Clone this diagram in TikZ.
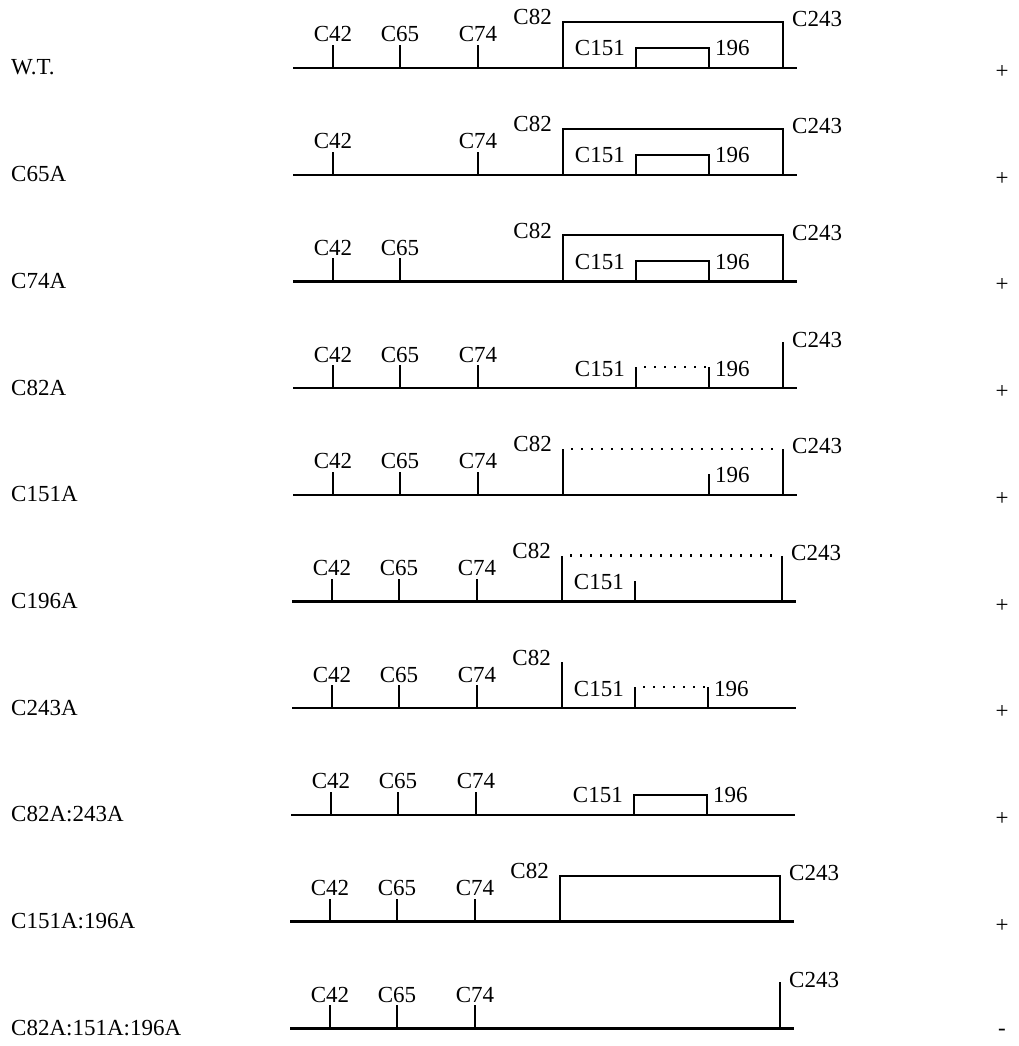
\documentclass[tikz,border=0pt]{standalone}
\usepackage{fontspec}
\setmainfont{Liberation Serif}
\def\xs{293}\def\xt{797}
\def\xa{333}\def\xb{400}\def\xc{478}\def\xd{563}\def\xe{636}\def\xf{709}\def\xg{783}
\def\hT{46}\def\hS{23}\def\hL{21}\def\hI{20}
\newcommand\SmallTick[3]{%
  \draw[tk] (#2,0) -- (#2,-\hS) coordinate (#1);
  \node[lbl,anchor=base] (#1l) at (#2,-\hS-3) {#3};}
\newcommand\TallTick[2]{%
  \draw[tk] (#2,0) -- (#2,-\hT) coordinate (#1);}
\newcommand\LowTick[2]{%
  \draw[tk] (#2,0) -- (#2,-\hL) coordinate (#1);}
\newcommand\LabLeft[3]{\node[lbl,anchor=base east] (#1) at (#2) {#3};}
\newcommand\LabRight[3]{\node[lbl,anchor=base west] (#1) at (#2) {#3};}
\newcommand\GeneLine[1]{%
  \coordinate (#1s) at (\xs,0); \coordinate (#1t) at (\xt,0);
  \draw[mainln] (#1s) -- (#1t);}
\newcommand\FirstTicks[4]{% name, show42, show65, show74
  \ifnum#2=1 \SmallTick{#1a}{\xa}{C42}\fi
  \ifnum#3=1 \SmallTick{#1b}{\xb}{C65}\fi
  \ifnum#4=1 \SmallTick{#1c}{\xc}{C74}\fi}
\newcommand\LabEightyTwo[1]{\LabLeft{#1dl}{\xd-11,-\hT+3}{C82}}
\newcommand\LabTwoFortyThree[1]{\LabRight{#1gl}{\xg+9,-\hT+5}{C243}}
\newcommand\LabOneFiftyOne[1]{\LabLeft{#1el}{\xe-11,-12}{C151}}
\newcommand\LabOneNinetySix[1]{\LabRight{#1fl}{\xf+6,-12}{196}}
\newcommand\SolidOuter[1]{%
  \coordinate (#1d0) at (\xd,0); \coordinate (#1d1) at (\xd,-\hT);
  \coordinate (#1g1) at (\xg,-\hT); \coordinate (#1g0) at (\xg,0);
  \draw[tk] (#1d0) -- (#1d1) -- (#1g1) -- (#1g0);
  \LabEightyTwo{#1}\LabTwoFortyThree{#1}}
\newcommand\SolidInner[1]{%
  \coordinate (#1e0) at (\xe,0); \coordinate (#1e1) at (\xe,-\hI);
  \coordinate (#1f1) at (\xf,-\hI); \coordinate (#1f0) at (\xf,0);
  \draw[tk] (#1e0) -- (#1e1) -- (#1f1) -- (#1f0);
  \LabOneFiftyOne{#1}\LabOneNinetySix{#1}}
\tikzset{
  lbl/.style={font=\fontsize{23}{27}\selectfont, inner sep=0pt},
  mainln/.style={line width=2.4pt},
  tk/.style={line width=2pt},
  dotln/.style={line width=2.4pt, dash pattern=on 2.4pt off 7.6pt},
}
\begin{document}
\begin{tikzpicture}[x=1pt,y=-1pt]
\useasboundingbox (0,0) rectangle (1018,1046);
\fill[white] (0,0) rectangle (1018,1046);
% row labels and signs
\foreach \lab/\sg [count=\i from 0] in {W.T./+, C65A/+, C74A/+, C82A/+, C151A/+, C196A/+, C243A/+, C82A:243A/+, C151A:196A/+, C82A:151A:196A/-}{
  \pgfmathsetmacro\yy{68+106.7*\i}
  \node[lbl,anchor=base west] (name\i) at (11,\yy+7) {\lab};
  \node[lbl,anchor=center] (sign\i) at (1002,\yy+4) {\sg};
}
% Row 1: W.T.
\begin{scope}[shift={(0,68)}]
  \GeneLine{r1}
  \FirstTicks{r1}{1}{1}{1}
  \SolidOuter{r1}
  \SolidInner{r1}
\end{scope}
% Row 2: C65A
\begin{scope}[shift={(0,174.7)}]
  \GeneLine{r2}
  \FirstTicks{r2}{1}{0}{1}
  \SolidOuter{r2}
  \SolidInner{r2}
\end{scope}
% Row 3: C74A
\begin{scope}[shift={(0,281.4)}]
  \GeneLine{r3}
  \FirstTicks{r3}{1}{1}{0}
  \SolidOuter{r3}
  \SolidInner{r3}
\end{scope}
% Row 4: C82A
\begin{scope}[shift={(0,388.1)}]
  \GeneLine{r4}
  \FirstTicks{r4}{1}{1}{1}
  \LowTick{r4e}{\xe}
  \LowTick{r4f}{\xf}
  \draw[dotln] ([xshift=8pt]r4e) -- ([xshift=-3pt]r4f);
  \LabOneFiftyOne{r4}\LabOneNinetySix{r4}
  \TallTick{r4g}{\xg}
  \LabTwoFortyThree{r4}
\end{scope}
% Row 5: C151A
\begin{scope}[shift={(0,494.8)}]
  \GeneLine{r5}
  \FirstTicks{r5}{1}{1}{1}
  \TallTick{r5d}{\xd}
  \TallTick{r5g}{\xg}
  \draw[dotln] ([xshift=8pt]r5d) -- ([xshift=-4pt]r5g);
  \LabEightyTwo{r5}\LabTwoFortyThree{r5}
  \LowTick{r5f}{\xf}
  \LabOneNinetySix{r5}
\end{scope}
% Row 6: C196A
\begin{scope}[shift={(-1,601.5)}]
  \GeneLine{r6}
  \FirstTicks{r6}{1}{1}{1}
  \TallTick{r6d}{\xd}
  \TallTick{r6g}{\xg}
  \draw[dotln] ([xshift=8pt]r6d) -- ([xshift=-4pt]r6g);
  \LabEightyTwo{r6}\LabTwoFortyThree{r6}
  \LowTick{r6e}{\xe}
  \LabOneFiftyOne{r6}
\end{scope}
% Row 7: C243A
\begin{scope}[shift={(-1,708.2)}]
  \GeneLine{r7}
  \FirstTicks{r7}{1}{1}{1}
  \TallTick{r7d}{\xd}
  \LabEightyTwo{r7}
  \LowTick{r7e}{\xe}
  \LowTick{r7f}{\xf}
  \draw[dotln] ([xshift=8pt]r7e) -- ([xshift=-3pt]r7f);
  \LabOneFiftyOne{r7}\LabOneNinetySix{r7}
\end{scope}
% Row 8: C82A:243A
\begin{scope}[shift={(-2,814.9)}]
  \GeneLine{r8}
  \FirstTicks{r8}{1}{1}{1}
  \SolidInner{r8}
\end{scope}
% Row 9: C151A:196A
\begin{scope}[shift={(-3,921.6)}]
  \GeneLine{r9}
  \FirstTicks{r9}{1}{1}{1}
  \SolidOuter{r9}
\end{scope}
% Row 10: C82A:151A:196A
\begin{scope}[shift={(-3,1028.3)}]
  \GeneLine{r10}
  \FirstTicks{r10}{1}{1}{1}
  \TallTick{r10g}{\xg}
  \LabTwoFortyThree{r10}
\end{scope}
\end{tikzpicture}
\end{document}
